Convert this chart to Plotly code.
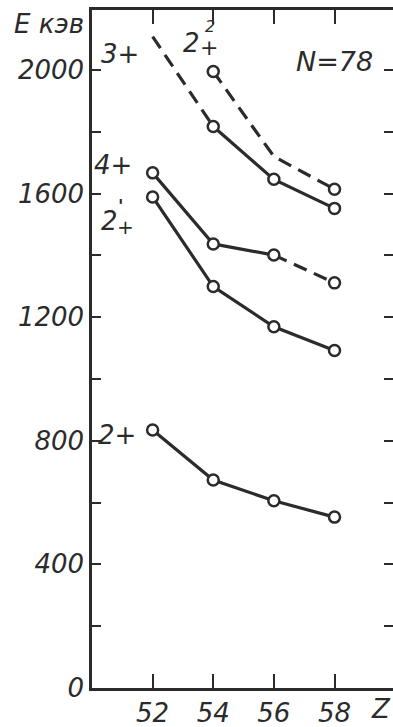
import plotly.graph_objects as go

# ---- data ----
Z = [52, 54, 56, 58]
E_2plus = [835, 673, 606, 553]            # 2+
E_2plus_p = [1589, 1299, 1169, 1092]      # 2'+
E_4plus = [1667, 1437, 1401, 1311]        # 4+ (last segment dashed)
E_3plus = [2108, 1817, 1646, 1552]        # 3+ (first segment dashed, no point at 52)
E_2plus_pp = [None, 1995, 1720, 1614]     # 2''+ (dashed, no point at 56)
meas_3plus = [False, True, True, True]
meas_2plus_pp = [False, True, False, True]

y_ticks = [0, 400, 800, 1200, 1600, 2000]
x_ticks = [52, 54, 56, 58]

INK = "#2b2b2b"
FONT = "DejaVu Sans"
LW = 3.2
DASH = "14px,8px"

fig = go.Figure()

def line(x, y, dash="solid"):
    fig.add_trace(go.Scatter(x=x, y=y, mode="lines",
                             line=dict(color=INK, width=LW, dash=dash),
                             hoverinfo="skip", showlegend=False))

def pts(x, y):
    fig.add_trace(go.Scatter(x=x, y=y, mode="markers",
                             marker=dict(symbol="circle", size=11, color="white",
                                         line=dict(color=INK, width=2.5)),
                             showlegend=False))

# 2+
line(Z, E_2plus)
# 2'+
line(Z, E_2plus_p)
# 4+
line(Z[:3], E_4plus[:3])
line(Z[2:], E_4plus[2:], DASH)
# 3+
line(Z[:2], E_3plus[:2], DASH)
line(Z[1:], E_3plus[1:])
# 2''+
line(Z[1:], E_2plus_pp[1:], DASH)

pts(Z, E_2plus)
pts(Z, E_2plus_p)
pts(Z, E_4plus)
pts([z for z, m in zip(Z, meas_3plus) if m], [e for e, m in zip(E_3plus, meas_3plus) if m])
pts([z for z, m in zip(Z, meas_2plus_pp) if m], [e for e, m in zip(E_2plus_pp, meas_2plus_pp) if m])

# invisible trace for the right-hand tick axis
fig.add_trace(go.Scatter(x=[55], y=[1000], yaxis="y2", mode="markers",
                         marker=dict(opacity=0), hoverinfo="skip", showlegend=False))

tf = dict(family=FONT, size=26, color=INK, style="italic")

fig.update_layout(
    width=393, height=727,
    margin=dict(l=92, r=0, t=10, b=39, autoexpand=False),
    paper_bgcolor="white", plot_bgcolor="white",
    xaxis=dict(range=[50, 59.93], tickvals=x_ticks, ticktext=[str(v) for v in x_ticks],
               ticks="inside", ticklen=14, tickwidth=2, tickcolor=INK,
               showline=True, linecolor=INK, linewidth=2.5, mirror="ticks",
               showgrid=False, zeroline=False, tickfont=tf, ticklabelstandoff=0,
               automargin=False),
    yaxis=dict(range=[0, 2194], tickvals=list(range(0, 2200, 200)),
               ticktext=[str(v) if v in y_ticks else "" for v in range(0, 2200, 200)],
               ticks="inside", ticklen=9, tickwidth=2, tickcolor=INK,
               showline=True, linecolor=INK, linewidth=2.5,
               showgrid=False, zeroline=False, tickfont=tf, ticklabelstandoff=0,
               automargin=False),
    yaxis2=dict(range=[0, 2194], overlaying="y", side="right", anchor="x",
                tickvals=list(range(0, 2200, 200)), showticklabels=False,
                ticks="inside", ticklen=9, tickwidth=2, tickcolor=INK,
                showline=False, showgrid=False, zeroline=False, automargin=False),
)

def txt(x, y, s, size=26, xanchor="center"):
    fig.add_annotation(x=x, y=y, xref="paper", yref="paper", text=s, showarrow=False,
                       xanchor=xanchor, yanchor="middle",
                       font=dict(family=FONT, size=size, color=INK, style="italic"))

# helper: convert pixel position to paper coords
def px(x, y):
    return (x - 92) / 301.0, (688 - y) / 678.0

def label(xp, yp, s, size=26, xanchor="center"):
    a, b = px(xp, yp)
    txt(a, b, s, size, xanchor)

label(86, 24, "E кэв", 26, "right")
label(120, 54, "3+")
label(191, 43, "2")
label(209, 47, "+", 22)
label(210, 27, "2", 16)
label(334, 62, "N=78", 27)
label(113, 165, "4+")
label(109, 221, "2")
label(125, 227, "+", 20)
label(121, 206, "<b>'</b>", 18)
label(117, 435, "2+")
label(381, 709, "Z", 26)

fig.write_html("out.html", post_script="document.body.style.margin='0';",
               config={"displayModeBar": False})
